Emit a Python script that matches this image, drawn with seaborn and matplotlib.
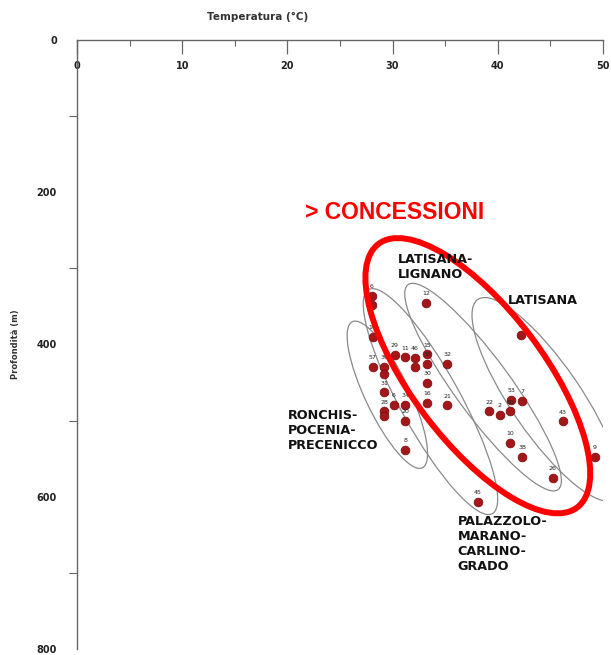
import matplotlib
matplotlib.use('Agg')
import matplotlib.pyplot as plt
import matplotlib.transforms as mtransforms
from matplotlib.patches import Ellipse
from matplotlib.ticker import MultipleLocator
import seaborn as sns

# Pozzi: numero, temperatura (°C), profondità (m)
well_ids = ["6", "", "12", "14", "29", "11", "46", "", "15", "33", "30", "32",
            "57", "39", "", "31", "6", "34", "16", "21", "28", "", "20", "8",
            "45", "22", "2", "60", "53", "7", "43", "10", "38", "26", "9", "4"]
temperature = [28.0, 28.0, 33.2, 28.1, 30.2, 31.2, 32.1, 32.1, 33.3, 33.3, 33.3, 35.2,
               28.1, 29.2, 29.2, 29.2, 30.1, 31.2, 33.3, 35.2, 29.2, 29.2, 31.2, 31.2,
               38.1, 39.2, 40.2, 41.2, 41.3, 42.3, 46.2, 41.2, 42.3, 45.2, 49.2, 42.2]
depth = [336, 348, 345, 390, 414, 417, 418, 430, 413, 426, 450, 426,
         429, 430, 439, 463, 479, 479, 477, 480, 488, 494, 500, 539,
         607, 488, 492, 488, 473, 474, 501, 529, 548, 575, 548, 388]

# Aree (testo, temperatura, profondità)
area_names = ["LATISANA-\nLIGNANO", "LATISANA", "RONCHIS-\nPOCENIA-\nPRECENICCO",
              "PALAZZOLO-\nMARANO-\nCARLINO-\nGRADO"]
area_t = [30.5, 41.0, 20.0, 36.2]
area_d = [280, 334, 485, 624]

# Ellissi delle aree: centro (°C, m), semiassi in pixel, inclinazione
area_ellipses = [(29.5, 466, 81, 22, 64.4),
                 (33.6, 475, 128, 30, 61.1),
                 (38.6, 456, 127, 28, 53.8),
                 (44.6, 472, 121, 35, 55.6)]
red_ellipse = (38.1, 441, 165, 66, 53)

sns.set_style('white')
plt.rcParams['font.family'] = ['DejaVu Sans']

fig = plt.figure(figsize=(6.11, 6.55), dpi=100)
ax = fig.add_axes([77 / 611, 6 / 655, 526 / 611, 609 / 655])

sns.scatterplot(x=temperature, y=depth, ax=ax, color='#a3161a', s=40,
                edgecolor='#7a0c0c', linewidth=0.5, legend=False, zorder=3)

for lab, t, d in zip(well_ids, temperature, depth):
    if lab:
        ax.text(t, d - 9, lab, fontsize=4.5, ha='center', va='bottom',
                color='#222222', zorder=4)


def draw_ellipse(cx, cy, a, b, ang, **kw):
    tr = fig.dpi_scale_trans + mtransforms.ScaledTranslation(cx, cy, ax.transData)
    e = Ellipse((0, 0), 2 * a / fig.dpi, 2 * b / fig.dpi, angle=-ang,
                transform=tr, fill=False, **kw)
    ax.add_patch(e)


ax.set_xlim(0, 50)
ax.set_ylim(800, 0)

for cx, cy, a, b, ang in area_ellipses:
    draw_ellipse(cx, cy, a, b, ang, edgecolor='#8a8a8a', linewidth=0.9, zorder=2)
draw_ellipse(*red_ellipse, edgecolor='#ff0000', linewidth=4.3, zorder=5)

for name, t, d in zip(area_names, area_t, area_d):
    ax.text(t, d, name, fontweight='bold', fontsize=9.2,
            ha='left', va='top', linespacing=1.2, color='#111111', zorder=6)

ax.text(21.7, 227, '> CONCESSIONI', color='#ff0000', fontsize=16.5,
        fontweight='bold', family='Liberation Sans', ha='left', va='center', zorder=6)

# assi
ax.xaxis.set_ticks_position('top')
ax.xaxis.set_label_position('top')
ax.xaxis.set_major_locator(MultipleLocator(10))
ax.xaxis.set_minor_locator(MultipleLocator(5))
ax.yaxis.set_major_locator(MultipleLocator(200))
ax.yaxis.set_minor_locator(MultipleLocator(100))
ax.tick_params(axis='x', which='major', direction='in', length=10, width=0.9,
               color='#666666', pad=-22, labelsize=7, labelcolor='#222222')
ax.tick_params(axis='x', which='minor', direction='in', length=4, width=0.8,
               color='#666666')
ax.tick_params(axis='y', which='major', direction='out', length=11.5, width=0.9,
               color='#666666', pad=3, labelsize=7, labelcolor='#222222')
ax.tick_params(axis='y', which='minor', direction='out', length=6, width=0.8,
               color='#666666', left=True)
for lab in ax.get_xticklabels() + ax.get_yticklabels():
    lab.set_fontweight('bold')

for side in ['right', 'bottom']:
    ax.spines[side].set_visible(False)
for side in ['top', 'left']:
    ax.spines[side].set_color('#666666')
    ax.spines[side].set_linewidth(1.0)

ax.set_xlabel('Temperatura (°C)', fontsize=7.5, fontweight='bold', color='#333333')
ax.xaxis.set_label_coords(0.344, 1.033)
ax.set_ylabel('Profondità (m)', fontsize=6, fontweight='bold', color='#333333',
              labelpad=12)

fig.savefig('out.png', dpi=100)
